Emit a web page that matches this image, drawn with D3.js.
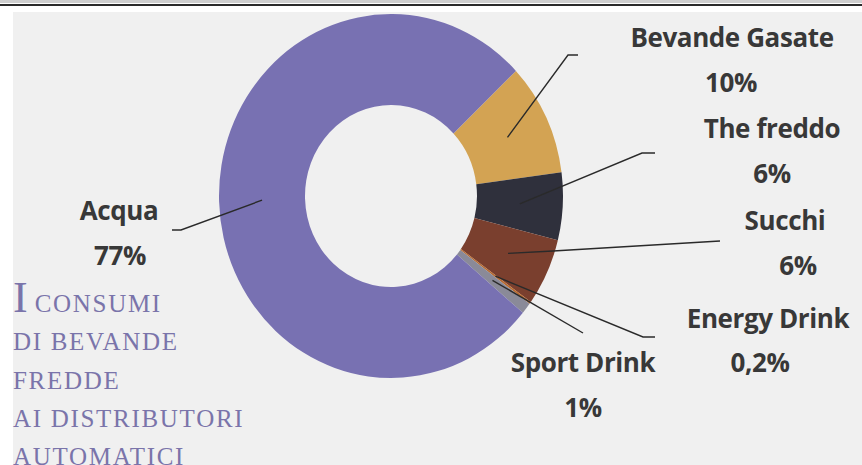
<!DOCTYPE html>
<html>
<head>
<meta charset="utf-8">
<script src="https://cdn.jsdelivr.net/npm/d3@7"></script>
<style>
 html,body{margin:0;padding:0;background:#fff;}
 svg{display:block;}
</style>
</head>
<body>
<svg id="chart" width="862" height="465"></svg>
<script>
// ---- data ----
const categories=["Bevande Gasate","The freddo","Succhi","Energy Drink","Sport Drink","Acqua"];
const values=[10,6,6,0.2,1,77];
const valueLabels=["10%","6%","6%","0,2%","1%","77%"];
const colors=["#d3a353","#2f303c","#7a3f2e","#b86a2f","#8a8a98","#7871b2"];
const titleLines=["consumi","di bevande","fredde","ai distributori","automatici"];

// ---- layout (label boxes, leader ends) ----
const labelLayout=[
 {x1:732,y1:47, x2:731,y2:92,  pts:[[568,55],[578,55]]},
 {x1:772,y1:138,x2:772,y2:183, pts:[[642,153],[655,153]]},
 {x1:785,y1:230,x2:798,y2:275, pts:[[553,251],[720,241]]},
 {x1:768,y1:328,x2:760,y2:372, pts:[[643,337],[655,337]]},
 {x1:583,y1:372,x2:583,y2:417, pts:[[583,333]]},
 {x1:119,y1:220,x2:120,y2:265, pts:[[181,230],[172,230]]}
];

const svg=d3.select("#chart");
const W=862,H=465;

// frame
svg.append("rect").attr("x",0).attr("y",0).attr("width",W).attr("height",3).attr("fill","#cfcfcf");
svg.append("rect").attr("x",0).attr("y",4).attr("width",W).attr("height",2).attr("fill","#2b2b2b");
svg.append("rect").attr("x",13).attr("y",12).attr("width",W-13).attr("height",H-12).attr("fill","#f0f0f0");

// ================= DONUT =================
const cx=391,cy=196,R=172,sy=1.058;
const startA=0.813;
const pie=d3.pie().sort(null).value(d=>d)
 .startAngle(startA).endAngle(startA+2*Math.PI);
const arcs=pie(values);
const arc=d3.arc().innerRadius(R*0.5).outerRadius(R);

const g=svg.append("g").attr("transform",`translate(${cx},${cy}) scale(1,${sy})`);
g.selectAll("path").data(arcs).enter().append("path")
 .attr("d",arc)
 .attr("fill",(d,i)=>colors[i]);

// leader lines
const proj=p=>[cx+p[0],cy+p[1]*sy];
const line=d3.line();
svg.selectAll("path.leader").data(arcs).enter().append("path")
 .attr("class","leader")
 .attr("d",(d,i)=>line([proj(arc.centroid(d))].concat(labelLayout[i].pts)))
 .attr("fill","none").attr("stroke","#2a2a2a").attr("stroke-width",1.4);

// labels
const lab=svg.append("g").attr("font-family","'Open Sans', Lato, sans-serif")
 .attr("font-weight","bold").attr("font-size",26).attr("fill","#383838")
 .attr("text-anchor","middle").attr("letter-spacing",-0.4);
categories.forEach((c,i)=>{
 const L=labelLayout[i];
 lab.append("text").attr("x",L.x1).attr("y",L.y1).text(c);
 lab.append("text").attr("x",L.x2).attr("y",L.y2).text(valueLabels[i]);
});

// ================= TITLE =================
const tg=svg.append("g").attr("font-family","'Liberation Serif', serif")
 .attr("fill","#7a74aa").attr("letter-spacing",1.7);
const baseY=312,lh=38.3;
titleLines.forEach((t,i)=>{
 const txt=tg.append("text").attr("x",13).attr("y",baseY+i*lh);
 if(i===0){
  txt.append("tspan").attr("font-size",44).attr("letter-spacing",0).text("I");
  txt.append("tspan").attr("font-size",25).attr("dx",7).text(t.toUpperCase());
 } else {
  txt.attr("font-size",25).text(t.toUpperCase());
 }
});
</script>
</body>
</html>
